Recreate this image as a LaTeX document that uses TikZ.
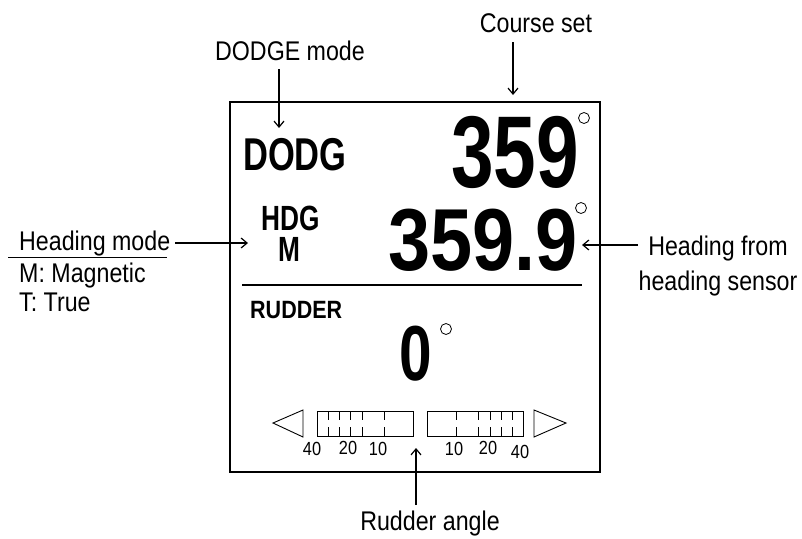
\documentclass[tikz,border=0pt]{standalone}
\usepackage{fontspec}
\usetikzlibrary{arrows.meta}
\setmainfont[FakeStretch=0.86]{Liberation Sans}
\newfontfamily\dispfont[FakeStretch=0.75]{Liberation Sans Bold}
\newfontfamily\dispwide[FakeStretch=0.86]{Liberation Sans Bold}
\begin{document}
\begin{tikzpicture}[x=1pt, y=-1pt,
        lbl/.style={inner sep=0pt, font=\fontsize{27}{33}\selectfont},
        disp/.style={inner sep=0pt},
        scalelbl/.style={inner sep=0pt, font=\fontsize{19}{19}\selectfont},
        arr/.style={-{Straight Barb[length=6pt,width=10pt,line width=1.2pt]}, line width=1.4pt},
        degree/.style={draw, circle, line width=0.8pt, minimum size=11pt, inner sep=0pt}
    ]
    \useasboundingbox (0,0) rectangle (802,538);

    % display frame
    \draw[line width=1.5pt] (230,102) rectangle (600,472);
    \draw[line width=1.5pt] (242,285) -- (582,285);

    % display contents
    \node[disp, anchor=base west, font=\fontsize{46}{46}\dispfont] (dodg) at (243,170) {DODG};
    \node[disp, anchor=base east, font=\fontsize{102}{102}\dispfont] (setval) at (579,187) {359};
    \node[degree] (deg1) at (584,118) {};
    \node[disp, anchor=base, font=\fontsize{35}{35}\dispfont] (hdg) at (291,230) {HDG};
    \node[disp, anchor=base, font=\fontsize{35}{35}\dispfont] (hdgm) at (289,261) {M};
    \node[disp, anchor=base east, font=\fontsize{88}{88}\dispwide] (hdgval) at (578,270) {359.9};
    \node[degree] (deg2) at (581,208) {};
    \node[disp, anchor=base west, font=\fontsize{25}{25}\dispwide] (rudder) at (250,318) {RUDDER};
    \node[disp, anchor=base, font=\fontsize{78}{78}\dispfont] (rudval) at (416,380) {0};
    \node[degree] (deg3) at (446,329) {};

    % rudder scale
    \draw[line width=0.9pt] (303,410) -- (273,423) -- (303,437) -- cycle;
    \draw[line width=0.9pt] (534,410) -- (566,423) -- (534,437) -- cycle;
    \draw[line width=0.9pt] (317,411) rectangle (413,436);
    \draw[line width=0.9pt] (427,411) rectangle (523,436);
    \foreach \d in {11,22,33,45,67} {
        \draw[line width=0.8pt] (317+\d,411) -- ++(0,9) (317+\d,436) -- ++(0,-9);
        \draw[line width=0.8pt] (523-\d,411) -- ++(0,9) (523-\d,436) -- ++(0,-9);
    }
    \node[scalelbl] (l40) at (312,449) {40};
    \node[scalelbl] (l20) at (348,448) {20};
    \node[scalelbl] (l10) at (378,449) {10};
    \node[scalelbl] (r10) at (454,449) {10};
    \node[scalelbl] (r20) at (488,448) {20};
    \node[scalelbl] (r40) at (520,452) {40};

    % callouts
    \node[lbl, anchor=base] (course) at (536,32) {Course set};
    \node[lbl, anchor=base] (dmode) at (290,60) {DODGE mode};
    \node[lbl, anchor=base west] (hmode) at (19,250) {Heading mode};
    \node[lbl, anchor=base west] (mag) at (19,282) {M: Magnetic};
    \node[lbl, anchor=base west] (true) at (19,311) {T: True};
    \node[lbl, anchor=base] (hfrom) at (718,255) {Heading from};
    \node[lbl, anchor=base] (hsensor) at (718,290) {heading sensor};
    \node[lbl, anchor=base] (rangle) at (430,530) {Rudder angle};

    \coordinate (cs) at (513,95);
    \coordinate (dd) at (279,128);
    \coordinate (hd) at (248,243);
    \coordinate (hs) at (582,245);
    \coordinate (ra) at (416,448);

    \draw[arr, shorten <=10pt] (cs |- course.south) -- (cs);
    \draw[arr, shorten <=9pt] (dd |- dmode.south) -- (dd);
    \draw[arr, shorten <=5pt] (hmode.east |- hd) -- (hd);
    \draw[line width=1pt] ([xshift=-11pt,yshift=-1.5pt]hmode.south west) -- ([xshift=-3pt,yshift=-1.5pt]hmode.south east);
    \draw[arr, shorten <=10pt] (hfrom.west |- hs) -- (hs);
    \draw[arr, shorten <=5pt] (ra |- rangle.north) -- (ra);
\end{tikzpicture}
\end{document}
